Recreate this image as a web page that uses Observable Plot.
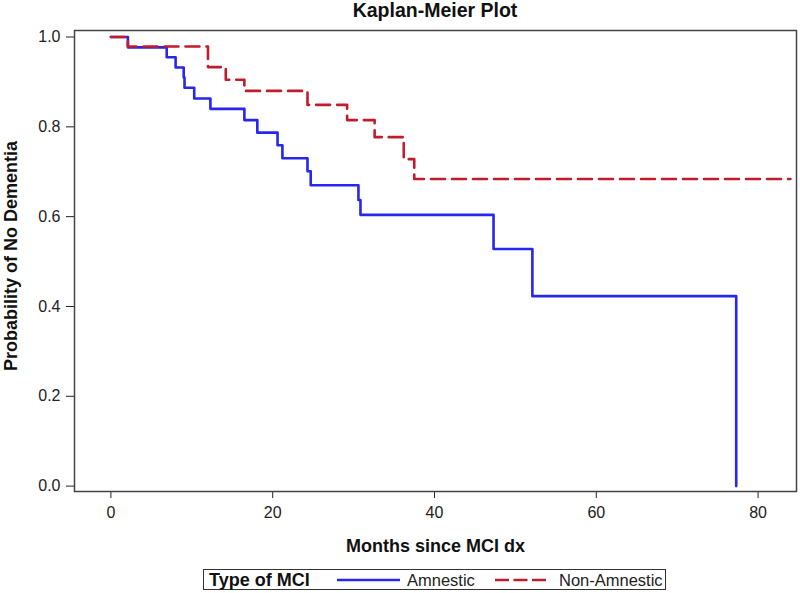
<!DOCTYPE html>
<html><head><meta charset="utf-8">
<script src="https://cdn.jsdelivr.net/npm/d3@7"></script>
<script src="https://cdn.jsdelivr.net/npm/@observablehq/plot@0.6"></script>
<style>
body{margin:0;background:#fff;font-family:"Liberation Sans",Arial,sans-serif;width:800px;height:593px;overflow:hidden;position:relative}
#title{position:absolute;left:74px;width:722px;top:0;height:24px;line-height:20px;text-align:center;font-weight:bold;font-size:19.5px;color:#111}
#chart{position:absolute;left:0;top:24px}
#legend{position:absolute;left:203px;top:569px;width:461px;height:19px;border:1.5px solid #333;background:#fff}
#legend span{position:absolute;top:0;line-height:20px;white-space:nowrap;color:#222}
#legend svg{position:absolute;top:0}
</style>
</head><body>
<div id="title"></div>
<div id="chart"></div>
<div id="legend"></div>
<script>
const titleText = "Kaplan-Meier Plot";
const xLabel = ["Months since MCI dx"];
const yLabel = ["Probability of No Dementia"];
const legendTitle = "Type of MCI";
const groups = ["Amnestic", "Non-Amnestic"];
const groupColors = ["#2626ee", "#c01c2c"];
const xTicks = [0, 20, 40, 60, 80];
const yTicks = [0, 0.2, 0.4, 0.6, 0.8, 1.0];

const amnesticMonths = [0, 2.1, 6.9, 8.0, 9.0, 9.1, 10.3, 12.3, 16.5, 18.1, 20.6, 21.2, 24.3, 24.7, 30.6, 30.85, 47.3, 52.1, 77.3];
const amnesticSurv   = [1.0, 0.977, 0.955, 0.932, 0.910, 0.887, 0.863, 0.840, 0.815, 0.787, 0.759, 0.730, 0.701, 0.670, 0.637, 0.604, 0.528, 0.423, 0.0];
const nonAmnMonths = [0, 2.1, 12.0, 14.2, 16.5, 24.3, 29.2, 32.6, 36.2, 37.5, 84.0];
const nonAmnSurv   = [1.0, 0.979, 0.933, 0.905, 0.880, 0.849, 0.815, 0.777, 0.728, 0.684, 0.684];

const amnestic = amnesticMonths.map((m, i) => ({month: m, surv: amnesticSurv[i]}));
const nonAmn = nonAmnMonths.map((m, i) => ({month: m, surv: nonAmnSurv[i]}));

document.getElementById("title").textContent = titleText;

const plot = Plot.plot({
  width: 800, height: 535,
  marginLeft: 74, marginRight: 4, marginTop: 6, marginBottom: 68,
  style: {fontFamily: "Liberation Sans, Arial, sans-serif", fontSize: "16px", color: "#222", background: "white", overflow: "visible"},
  x: {domain: [-4.5, 84.75]},
  y: {domain: [-0.012, 1.0145]},
  marks: [
    Plot.axisX({ticks: xTicks, tickSize: 7, tickPadding: 8, label: null, fontSize: 16}),
    Plot.axisY({ticks: yTicks, tickSize: 8, tickPadding: 6, tickFormat: d3.format(".1f"), label: null, fontSize: 16}),
    Plot.line(amnestic, {x: "month", y: "surv", curve: "step-after", stroke: groupColors[0], strokeWidth: 2.6}),
    Plot.line(nonAmn, {x: "month", y: "surv", curve: "step-after", stroke: groupColors[1], strokeWidth: 2.6, strokeDasharray: "14,7"}),
    Plot.frame({stroke: "#444", strokeWidth: 1.5}),
    Plot.text(xLabel, {frameAnchor: "bottom", dy: 55, textAnchor: "middle", lineAnchor: "middle", fontWeight: "bold", fontSize: 18, fill: "#111"}),
    Plot.text(yLabel, {frameAnchor: "left", dx: -63, dy: -5, rotate: -90, textAnchor: "middle", lineAnchor: "middle", fontWeight: "bold", fontSize: 18, fill: "#111"})
  ]
});
document.getElementById("chart").appendChild(plot);

const lg = document.getElementById("legend");
function span(text, left, style) {
  const s = document.createElement("span");
  s.textContent = text; s.style.left = left + "px"; Object.assign(s.style, style || {});
  lg.appendChild(s);
}
function sample(left, width, color, dash) {
  const ns = "http://www.w3.org/2000/svg";
  const svg = document.createElementNS(ns, "svg");
  svg.setAttribute("width", width); svg.setAttribute("height", 19);
  svg.style.left = left + "px";
  const l = document.createElementNS(ns, "line");
  l.setAttribute("x1", 0); l.setAttribute("x2", width); l.setAttribute("y1", 10); l.setAttribute("y2", 10);
  l.setAttribute("stroke", color); l.setAttribute("stroke-width", 2.6);
  if (dash) l.setAttribute("stroke-dasharray", dash);
  svg.appendChild(l); lg.appendChild(svg);
}
span(legendTitle, 5, {fontWeight: "bold", fontSize: "18px", color: "#111"});
sample(133, 63, groupColors[0], null);
span(groups[0], 203, {fontSize: "16.5px"});
sample(291, 51, groupColors[1], "14,4.5");
span(groups[1], 355, {fontSize: "16.5px"});
</script>
</body></html>
